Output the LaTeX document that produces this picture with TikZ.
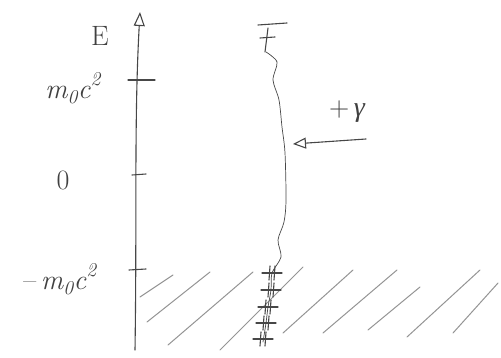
\documentclass[tikz,border=0pt]{standalone}
\usepackage{fontspec}
\newfontfamily\gkfont{Liberation Serif}
\usetikzlibrary{arrows.meta,calc}
\begin{document}
\begin{tikzpicture}[x=1pt,y=-1pt,
  pencil/.style={draw=black!72, line width=1.1pt, line cap=round, line join=round},
  hatch/.style={draw=black!42, line width=1pt, line cap=round},
  lbl/.style={text=black!75, font=\fontsize{28}{30}\selectfont\itshape, inner sep=0pt}]
\useasboundingbox (0,0) rectangle (501,358);
% energy axis
\coordinate (axbot) at (135,350);
\coordinate (axtop) at (140,12);
\draw[pencil,-{Triangle[open,length=14pt,width=11pt]}] (axbot) .. controls (137,220) and (134,120) .. (axtop);
\node[lbl] (E) at (100,36) {\upshape E};
% ticks
\draw[pencil] (128,80) -- (155,80);
\draw[pencil] (132,175) -- (146,174);
\draw[pencil] (129,270) -- (146,269);
\node[lbl] (mc) at (73,88) {m\textsubscript{0}c\raisebox{4pt}{\textsuperscript{2}}};
\node[lbl] (zero) at (63,180) {\upshape 0};
\node[lbl] (mmc) at (60,279) {\upshape{\textendash}\,\itshape m\textsubscript{0}c\raisebox{4pt}{\textsuperscript{2}}};
% hatching (Dirac sea)
\foreach \a/\b/\c/\d in {140/297/173/275, 147/322/210/272, 168/345/253/272, 220/350/303/267,
  283/333/353/270, 323/333/397/270, 368/330/420/287, 407/337/480/270, 453/333/498/283}
  \draw[hatch] (\a,\b) -- (\c,\d);
% electron level at top
\draw[pencil] (258,25) -- (287,23);
\draw[pencil] (268,28) -- (265,52);
\draw[pencil] (260,38) -- (275,37);
% wavy line of the electron
\coordinate (wtop) at (266,52);
\coordinate (wbot) at (263,342);
\draw[pencil, line width=0.7pt] plot[smooth] coordinates {(wtop) (277,62) (273,80) (279,100) (282,127) (285,153) (286,200) (284,222) (278,240) (281,257) (272,273) (271,290) (268,307) (266,323) (wbot)};
% filled states
\foreach \x/\y in {272/273, 271/290, 268/307, 266/323, 263/339}{
  \draw[pencil] (\x-10,\y) -- (\x+10,\y);
  \draw[pencil] (\x-2,\y-7) -- (\x-3,\y+7);
  \draw[pencil] (\x+3,\y-7) -- (\x+2,\y+7);
}
% photon
\coordinate (phs) at (366,139);
\coordinate (phe) at (293,144);
\draw[pencil,-{Triangle[open,length=13pt,width=11pt]}] (phs) -- (phe);
\node[lbl] (gam) at (347,112) {\upshape+\,{\gkfont\itshape γ}};
\end{tikzpicture}
\end{document}
